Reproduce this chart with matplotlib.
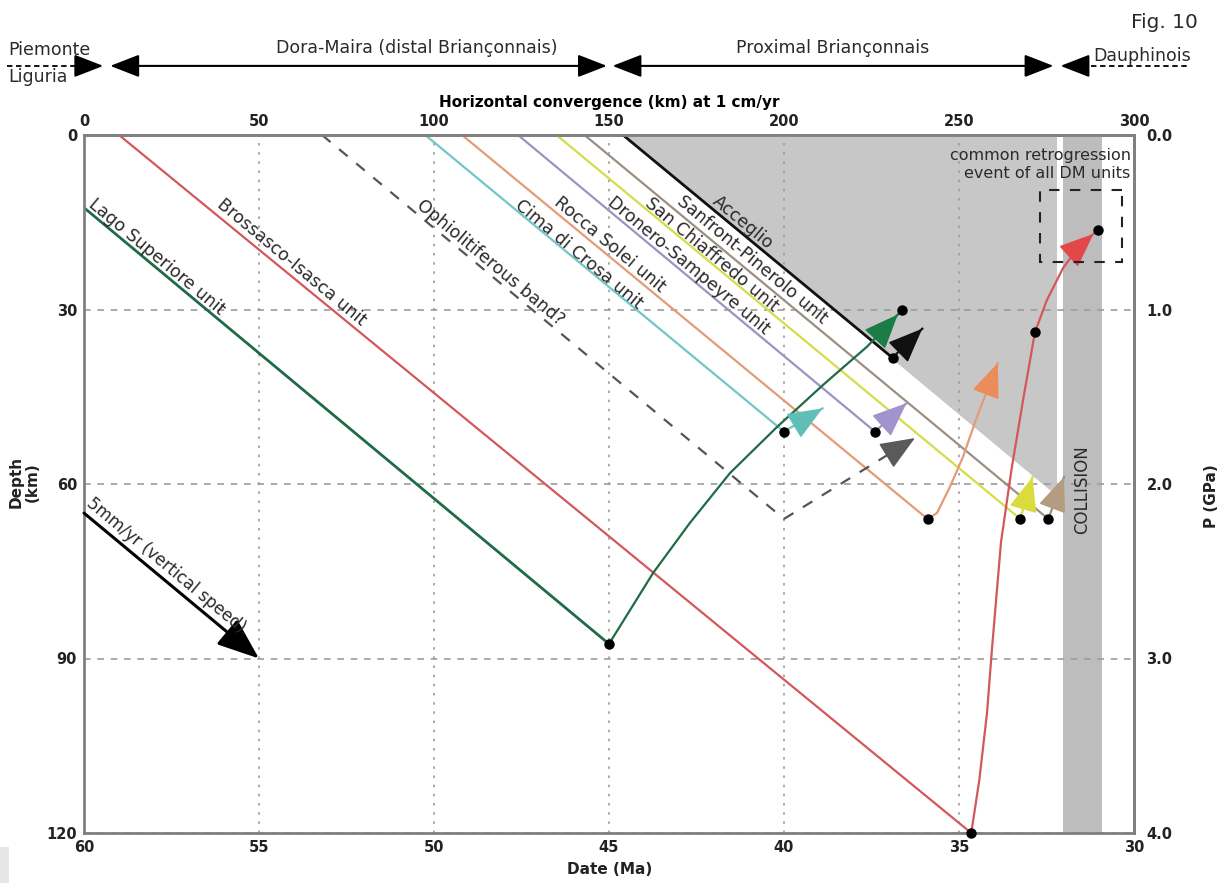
import matplotlib.pyplot as plt
import numpy as np
from matplotlib.patches import Rectangle


# -----------------------------
# Data
# -----------------------------

units = ["Lago Superiore unit", "Brossasco-Isasca unit", "Ophiolitiferous band?",
         "Cima di Crosa unit", "Rocca Solei unit", "Dronero-Sampeyre unit",
         "San Chiaffredo unit", "Sanfront-Pinerolo unit", "Acceglio"]

# prograde (burial) path: start and peak (Ma, depth km)
start_ma = [60.0, 59.0, 53.2, 50.25, 49.2, 47.6, 46.5, 45.7, 44.6]
start_depth = [12.5, 0.0, 0.0, 0.0, 0.0, 0.0, 0.0, 0.0, 0.0]
peak_ma = [45.0, 34.65, 40.0, 40.0, 35.9, 37.4, 33.25, 32.45, 36.9]
peak_depth = [87.5, 120.0, 66.0, 51.0, 66.0, 51.0, 66.0, 66.0, 38.3]

# end of the exhumation arrows
tip_ma = [36.63, 31.03, 36.26, 38.9, 33.89, 36.5, 32.9, 32.0, 36.05]
tip_depth = [30.1, 16.3, 52.1, 47.0, 39.2, 46.1, 58.8, 58.8, 33.3]

# curved exhumation paths (intermediate points)
lago_mid_ma = [43.74, 42.69, 41.54, 40.2, 38.89, 37.63, 36.97]
lago_mid_depth = [75.3, 66.7, 58.1, 50.2, 43.0, 36.4, 32.3]
bross_mid_ma = [34.42, 34.2, 34.06, 33.8, 33.5, 33.17, 32.83, 32.49, 32.03, 31.6]
bross_mid_depth = [110.9, 99.4, 88.5, 70.0, 57.5, 45.6, 33.9, 28.4, 22.9, 19.4]
rocca_mid_ma = [35.63, 35.26, 34.89, 34.49]
rocca_mid_depth = [65.0, 60.5, 55.4, 48.5]

# black dots that are not peaks
extra_dot_ma = [36.63, 31.03, 32.83]
extra_dot_depth = [30.1, 16.3, 33.9]

# shaded zones
hp_zone_ma = [44.6, 32.2, 32.2]
hp_zone_depth = [0.0, 0.0, 62.0]
collision_ma = [32.03, 30.91]
retro_box_ma = [32.69, 30.34]
retro_box_depth = [9.5, 21.8]

# vertical speed arrow
speed_ma = [60.0, 55.0]
speed_depth = [65.0, 90.0]

# palaeogeographic domains (top)
domain_names = ["Dora-Maira (distal Briançonnais)", "Proximal Briançonnais"]
domain_from_ma = [59.25, 44.9]
domain_to_ma = [45.06, 32.3]
piemonte_ma = [62.2, 59.45]
dauphinois_ma = [32.1, 28.4]

date_ticks = [60, 55, 50, 45, 40, 35, 30]
depth_ticks = [0, 30, 60, 90, 120]
conv_ticks = [0, 50, 100, 150, 200, 250, 300]
p_ticks = [0.0, 1.0, 2.0, 3.0, 4.0]


# -----------------------------
# Styles
# -----------------------------

line_colors = ["#1f6b47", "#d4575a", "#555555", "#72c6c6", "#e39c76", "#9c93c3",
               "#d5dc48", "#9d8f80", "#111111"]
head_colors = ["#1b7d45", "#e4474a", "#5a5a5a", "#5fbfb6", "#ea8c5c", "#a193cb",
               "#d9dc3c", "#b39c80", "#111111"]
text_col = "#2a2a2a"
spine_col = "#808080"
grid_col = "#9c9c9c"
HEAD = "-|>,head_length=1.1,head_width=0.45"

W, H = 1223, 883
fig = plt.figure(figsize=(W / 100, H / 100), dpi=100)
ax = fig.add_axes([84 / W, 1 - 833 / H, 1050 / W, 698 / H])
ax.set_xlim(60, 30)
ax.set_ylim(120, 0)

for s in ax.spines.values():
    s.set_color(spine_col)
    s.set_linewidth(2)

ax.set_xticks(date_ticks, labels=[str(t) for t in date_ticks])
ax.set_yticks(depth_ticks, labels=[str(t) for t in depth_ticks])
for lab in ax.get_xticklabels() + ax.get_yticklabels():
    lab.set_fontweight("bold")
ax.tick_params(length=0, labelsize=10.5, colors="#222222", pad=5)
ax.xaxis.grid(True, linestyle=(0, (1.5, 4)), color=grid_col, lw=1.2)
ax.yaxis.grid(True, linestyle=(0, (4, 4)), color=grid_col, lw=1.2)

# top axis: convergence at 1 cm/yr
top = ax.secondary_xaxis("top", functions=(lambda m: (60 - m) * 10, lambda k: 60 - k / 10))
top.set_xticks(conv_ticks, labels=[str(t) for t in conv_ticks])
for lab in top.get_xticklabels():
    lab.set_fontweight("bold")
top.tick_params(length=0, labelsize=10.5, pad=4, colors="#222222")
top.spines["top"].set_color(spine_col)
top.spines["top"].set_linewidth(2)
top.set_xlabel("Horizontal convergence (km) at 1 cm/yr", fontweight="bold",
               fontsize=11, labelpad=5)

# right axis: pressure
right = ax.secondary_yaxis("right", functions=(lambda d: d / 30, lambda p: p * 30))
right.set_yticks(p_ticks, labels=[f"{p:.1f}" for p in p_ticks])
for lab in right.get_yticklabels():
    lab.set_fontweight("bold")
right.tick_params(length=0, labelsize=10.5, pad=9, colors="#222222")
right.spines["right"].set_color(spine_col)
right.spines["right"].set_linewidth(2)


def draw_head(x0, y0, x1, y1, color, back_px=0, head_px=30):
    # arrow head pointing from (x0, y0) to (x1, y1), drawn in display space
    a = ax.transData.transform((x0, y0))
    b = ax.transData.transform((x1, y1))
    u = (b - a) / np.hypot(*(b - a))
    tip = ax.transData.inverted().transform(b - u * back_px)
    tail = ax.transData.inverted().transform(b - u * (back_px + head_px))
    ax.annotate("", xy=tip, xytext=tail,
                arrowprops=dict(arrowstyle=HEAD, color=color, lw=1.2,
                                mutation_scale=20, shrinkA=0, shrinkB=0),
                zorder=3)


# shaded zones
ax.fill(hp_zone_ma, hp_zone_depth, color="#c7c7c7", lw=0, zorder=1)
ax.axvspan(collision_ma[0], collision_ma[1], color="#bdbdbd", lw=0, zorder=1)
ax.text(np.mean(collision_ma), 61, "COLLISION", rotation=90, ha="center", va="center",
        fontsize=12, color=text_col, zorder=3)

# prograde paths
for i in range(len(units)):
    ls = (0, (5, 5)) if i == 2 else "-"
    lw = 2.0 if i in (0, 8) else 1.6
    ax.plot([start_ma[i], peak_ma[i]], [start_depth[i], peak_depth[i]],
            color=line_colors[i], lw=lw, ls=ls, zorder=2, solid_capstyle="butt")

# exhumation paths
paths = {0: (lago_mid_ma, lago_mid_depth), 1: (bross_mid_ma, bross_mid_depth),
         4: (rocca_mid_ma, rocca_mid_depth)}
for i in range(len(units)):
    mid_ma, mid_d = paths.get(i, ([], []))
    xs = [peak_ma[i]] + list(mid_ma) + [tip_ma[i]]
    ys = [peak_depth[i]] + list(mid_d) + [tip_depth[i]]
    ls = (0, (5, 5)) if i == 2 else "-"
    ax.plot(xs, ys, color=line_colors[i], lw=1.6, ls=ls, zorder=2)
    back = 6 if i in (0, 1) else 0
    draw_head(xs[-2], ys[-2], xs[-1], ys[-1], head_colors[i], back_px=back)

# dots
dot_idx = [0, 1, 3, 4, 5, 6, 7, 8]
ax.plot([peak_ma[i] for i in dot_idx], [peak_depth[i] for i in dot_idx], "o",
        color="black", ms=6.5, zorder=5, clip_on=False)
ax.plot(extra_dot_ma, extra_dot_depth, "o", color="black", ms=6.5, zorder=5)

# retrogression box
ax.add_patch(Rectangle((retro_box_ma[1], retro_box_depth[0]),
                       retro_box_ma[0] - retro_box_ma[1],
                       retro_box_depth[1] - retro_box_depth[0],
                       fill=False, ec="#222222", lw=1.5, ls=(0, (5, 5)), zorder=3))
ax.text(30.1, 2.2, "common retrogression\nevent of all DM units", ha="right", va="top",
        fontsize=11.5, color=text_col, linespacing=1.25, zorder=3)

# vertical speed arrow
ax.annotate("", xy=(speed_ma[1], speed_depth[1]), xytext=(speed_ma[0], speed_depth[0]),
            arrowprops=dict(arrowstyle="-|>,head_length=1.3,head_width=0.5",
                            color="black", lw=2.2, mutation_scale=20,
                            shrinkA=0, shrinkB=0), zorder=3)

# labels along the paths
p0 = ax.transData.transform((start_ma[0], start_depth[0]))
p1 = ax.transData.transform((peak_ma[0], peak_depth[0]))
angle = np.degrees(np.arctan2(p1[1] - p0[1], p1[0] - p0[0]))

label_pos = [(57.91, 21.0), (54.06, 21.8), (48.4, 22.0), (45.86, 20.6), (44.97, 18.9),
             (42.74, 22.5), (42.06, 20.6), (40.91, 21.5), (41.17, 15.1)]
for name, (lx, ly) in zip(units, label_pos):
    ax.text(lx, ly, name, rotation=angle, rotation_mode="anchor", ha="center",
            va="center", fontsize=12.5, color=text_col, zorder=3)
ax.text(57.66, 74.0, "5mm/yr (vertical speed)", rotation=angle, rotation_mode="anchor",
        ha="center", va="center", fontsize=12, color=text_col, zorder=3)

# palaeogeographic domains above the plot
trans = ax.get_xaxis_transform()
y_arr = 1.099
y_txt = 1.124
domain_text_ma = [50.5, 38.6]
for name, a, b, tx in zip(domain_names, domain_from_ma, domain_to_ma, domain_text_ma):
    ax.annotate("", xy=(b, y_arr), xytext=(a, y_arr), xycoords=trans, textcoords=trans,
                arrowprops=dict(arrowstyle="<|-|>,head_length=0.9,head_width=0.35",
                                color="black", lw=1.5, mutation_scale=20,
                                shrinkA=0, shrinkB=0), annotation_clip=False)
    ax.text(tx, y_txt, name, transform=trans, ha="center", va="center",
            fontsize=12.5, color=text_col)

# Piemonte-Liguria (dashed, pointing right)
ax.plot([piemonte_ma[0], piemonte_ma[1] + 0.6], [y_arr, y_arr], transform=trans,
        color="black", lw=1.3, ls=(0, (3, 2)), clip_on=False)
ax.annotate("", xy=(piemonte_ma[1], y_arr), xytext=(piemonte_ma[1] + 0.7, y_arr),
            xycoords=trans, textcoords=trans,
            arrowprops=dict(arrowstyle="-|>,head_length=0.9,head_width=0.35",
                            color="black", lw=1.5, mutation_scale=20,
                            shrinkA=0, shrinkB=0), annotation_clip=False)
fig.text(8 / W, 1 - 50 / H, "Piemonte", ha="left", va="center", fontsize=12.5, color=text_col)
fig.text(8 / W, 1 - 77 / H, "Liguria", ha="left", va="center", fontsize=12.5, color=text_col)

# Dauphinois (dashed, pointing left)
ax.plot([dauphinois_ma[0] - 0.6, dauphinois_ma[1]], [y_arr, y_arr], transform=trans,
        color="black", lw=1.3, ls=(0, (3, 2)), clip_on=False)
ax.annotate("", xy=(dauphinois_ma[0], y_arr), xytext=(dauphinois_ma[0] - 0.7, y_arr),
            xycoords=trans, textcoords=trans,
            arrowprops=dict(arrowstyle="-|>,head_length=0.9,head_width=0.35",
                            color="black", lw=1.5, mutation_scale=20,
                            shrinkA=0, shrinkB=0), annotation_clip=False)
fig.text(1142 / W, 1 - 56 / H, "Dauphinois", ha="center", va="center", fontsize=12.5,
         color=text_col)

fig.text(1198 / W, 1 - 22 / H, "Fig. 10", ha="right", va="center", fontsize=14.5,
         color=text_col)

# axis titles
fig.text(24 / W, 1 - 482 / H, "Depth\n(km)", rotation=90, ha="center", va="center",
         fontsize=11, fontweight="bold", linespacing=1.1, color="#222222")
fig.text(1211 / W, 1 - 496 / H, "P (GPa)", rotation=90, ha="center", va="center",
         fontsize=11, fontweight="bold", color="#222222")
fig.text(610 / W, 1 - 869 / H, "Date (Ma)", ha="center", va="center",
         fontsize=11, fontweight="bold", color="#222222")

# small grey corner patch
fig.patches.append(Rectangle((0, 0), 9 / W, 36 / H, transform=fig.transFigure,
                             color="#e6e6e6", lw=0))

fig.savefig("out.png", dpi=100)
